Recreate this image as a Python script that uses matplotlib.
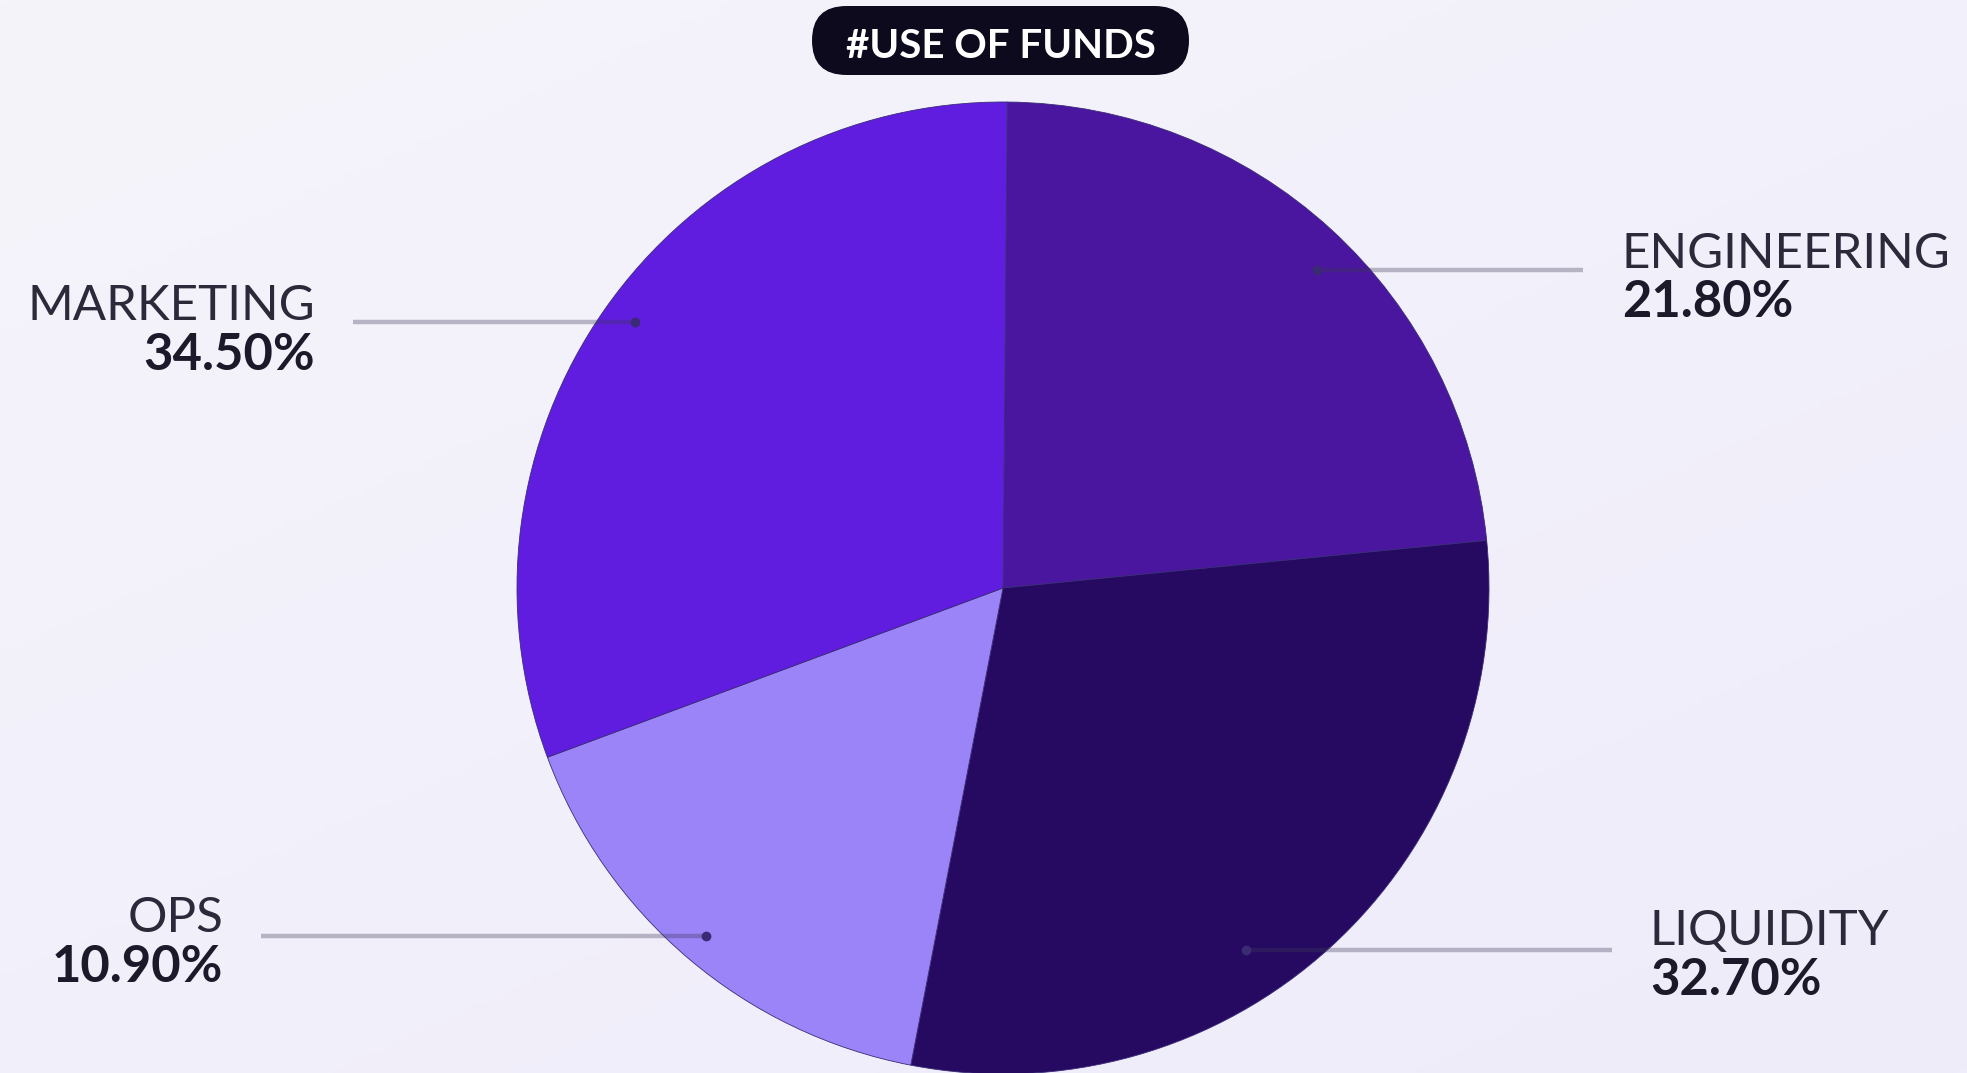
import numpy as np
import matplotlib
matplotlib.use("Agg")
import matplotlib.pyplot as plt
from matplotlib.patches import FancyBboxPatch

# ---- data ----
categories = ["ENGINEERING", "LIQUIDITY", "OPS", "MARKETING"]
label_pct = ["21.80%", "32.70%", "10.90%", "34.50%"]
# slice sizes as drawn in the picture (share of the circle, %)
slice_share = [23.3, 29.6, 16.3, 30.8]
colors = ["#4a169f", "#260a62", "#9b84f8", "#601de0"]

W, H = 1967, 1073
fig = plt.figure(figsize=(W / 100, H / 100), dpi=100)
ax = fig.add_axes([0, 0, 1, 1])

# background gradient
yy, xx = np.mgrid[0:1:200j, 0:1:200j]
t = np.clip(0.55 * (1 - yy) + 0.45 * xx, 0, 1)  # 1 at top-right
c0 = np.array([0xf5, 0xf4, 0xfa]) / 255
c1 = np.array([0xef, 0xec, 0xfb]) / 255
img = c0[None, None, :] * (1 - t[..., None]) + c1[None, None, :] * t[..., None]
ax.imshow(img, extent=[0, W, 0, H], origin="lower", aspect="auto", zorder=0)

cx, cy, R = 1003, H - 588, 486
wedges, _ = ax.pie(slice_share, colors=colors, startangle=89.5, counterclock=False,
                   center=(cx, cy), radius=R,
                   wedgeprops=dict(linewidth=0.6, edgecolor="#3a2c78"))
for w in wedges:
    w.set_zorder(2)

ax.set_xlim(0, W)
ax.set_ylim(0, H)
ax.set_aspect("equal")
ax.axis("off")

font = "Lato"
line_col = "#3c3856"
dot_col = "#3b2a74"

# leader lines: (x_start, x_end, y, x_dot) in image pixels
leaders = {
    "ENGINEERING": (1317, 1583, 270, 1317),
    "LIQUIDITY": (1246, 1612, 950, 1246),
    "OPS": (261, 706, 936, 706),
    "MARKETING": (353, 635, 322, 635),
}
for name in categories:
    x0, x1, y, xd = leaders[name]
    ax.plot([x0, x1], [H - y, H - y], color=line_col, alpha=0.33, lw=3.2, zorder=3,
            solid_capstyle="butt")
    ax.plot([xd], [H - y], "o", color=dot_col, ms=6, zorder=4)

# labels: (x, baseline_name, baseline_pct, ha)
label_pos = {
    "ENGINEERING": (1622, 268, 317, "left"),
    "LIQUIDITY": (1650, 945, 995, "left"),
    "OPS": (223, 932, 982, "right"),
    "MARKETING": (315, 320, 370, "right"),
}
for name, pct in zip(categories, label_pct):
    x, b1, b2, ha = label_pos[name]
    ax.text(x, H - b1, name, ha=ha, va="baseline", fontsize=35.5, family=font,
            fontweight="normal", color="#2c2a3a", zorder=5)
    ax.text(x, H - b2, pct, ha=ha, va="baseline", fontsize=36.5, family=font,
            fontweight="bold", color="#1c1a2a", zorder=5)

# title pill
bx0, bx1, by0, by1 = 812, 1189, 6, 75
hgt = by1 - by0
pill = FancyBboxPatch((bx0, H - by1), bx1 - bx0, hgt,
                      boxstyle=f"round,pad=0,rounding_size={hgt/2}",
                      facecolor="#0c0a1c", edgecolor="none", zorder=5)
ax.add_patch(pill)
ax.text((bx0 + bx1) / 2, H - 58, "#USE OF FUNDS", ha="center", va="baseline",
        fontsize=29, family=font, fontweight="bold", color="white", zorder=6)

fig.savefig("out.png", dpi=100)
